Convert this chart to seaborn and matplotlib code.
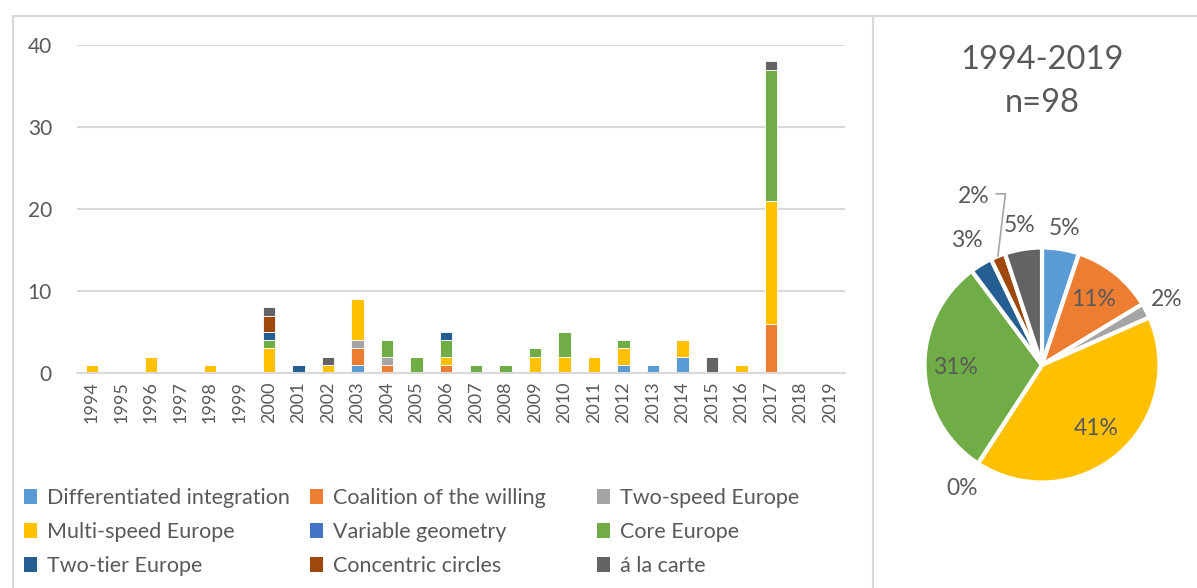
import numpy as np
import pandas as pd
import matplotlib
matplotlib.use("Agg")
import matplotlib.pyplot as plt
from matplotlib.patches import Patch
from matplotlib.lines import Line2D
import seaborn as sns

years = list(range(1994, 2020))
series = ["Differentiated integration", "Coalition of the willing", "Two-speed Europe",
          "Multi-speed Europe", "Variable geometry", "Core Europe",
          "Two-tier Europe", "Concentric circles", "á la carte"]
colors = ["#5B9BD5", "#ED7D31", "#A5A5A5", "#FFC000", "#4472C4", "#70AD47",
          "#255E91", "#9E480E", "#636363"]

#            1994 95 96 97 98 99 00 01 02 03 04 05 06 07 08 09 10 11 12 13 14 15 16 17 18 19
diff_int   = [0, 0, 0, 0, 0, 0, 0, 0, 0, 1, 0, 0, 0, 0, 0, 0, 0, 0, 1, 1, 2, 0, 0, 0, 0, 0]
coalition  = [0, 0, 0, 0, 0, 0, 0, 0, 0, 2, 1, 0, 1, 0, 0, 0, 0, 0, 0, 0, 0, 0, 0, 6, 0, 0]
two_speed  = [0, 0, 0, 0, 0, 0, 0, 0, 0, 1, 1, 0, 0, 0, 0, 0, 0, 0, 0, 0, 0, 0, 0, 0, 0, 0]
multi      = [1, 0, 2, 0, 1, 0, 3, 0, 1, 5, 0, 0, 1, 0, 0, 2, 2, 2, 2, 0, 2, 0, 1, 15, 0, 0]
variable   = [0, 0, 0, 0, 0, 0, 0, 0, 0, 0, 0, 0, 0, 0, 0, 0, 0, 0, 0, 0, 0, 0, 0, 0, 0, 0]
core       = [0, 0, 0, 0, 0, 0, 1, 0, 0, 0, 2, 2, 2, 1, 1, 1, 3, 0, 1, 0, 0, 0, 0, 16, 0, 0]
two_tier   = [0, 0, 0, 0, 0, 0, 1, 1, 0, 0, 0, 0, 1, 0, 0, 0, 0, 0, 0, 0, 0, 0, 0, 0, 0, 0]
concentric = [0, 0, 0, 0, 0, 0, 2, 0, 0, 0, 0, 0, 0, 0, 0, 0, 0, 0, 0, 0, 0, 0, 0, 0, 0, 0]
carte      = [0, 0, 0, 0, 0, 0, 1, 0, 1, 0, 0, 0, 0, 0, 0, 0, 0, 0, 0, 0, 0, 2, 0, 1, 0, 0]

# Pie shares (counts, n = 98)
pie_counts = [5, 11, 2, 40, 0, 30, 3, 2, 5]
pie_labels = ["5%", "11%", "2%", "41%", "0%", "31%", "3%", "2%", "5%"]
title_lines = ["1994-2019", "n=98"]

all_series = [diff_int, coalition, two_speed, multi, variable, core, two_tier, concentric, carte]

rows = []
for name, vals in zip(series, all_series):
    for y, v in zip(years, vals):
        rows.append({"year": y, "series": name, "count": v})
df = pd.DataFrame(rows)

sns.set_theme(style="white")
plt.rcParams['font.family'] = ['Lato', 'DejaVu Sans']
TXT = "#595959"
GRID = "#D9D9D9"

W, H = 1197, 588
fig = plt.figure(figsize=(W / 100, H / 100), dpi=100)

# ---- stacked bar chart ----
ax = fig.add_axes([77 / W, (H - 373) / H, (845 - 77) / W, (373 - 45) / H])
pal = dict(zip(series, colors))
sns.histplot(data=df, x="year", weights="count", hue="series",
             hue_order=series[::-1], palette=pal, multiple="stack",
             discrete=True, shrink=0.42, alpha=1, linewidth=0.6,
             edgecolor="white", legend=False, ax=ax)
ax.set_xlim(1993.5, 2019.5)
ax.set_ylim(0, 40)
ax.set_yticks([0, 10, 20, 30, 40])
ax.set_xticks(years)
ax.set_xticklabels([str(y) for y in years], rotation=90)
ax.set_xlabel("")
ax.set_ylabel("")
ax.grid(axis="y", color=GRID, linewidth=1.5)
ax.set_axisbelow(True)
for s in ["left", "right", "top"]:
    ax.spines[s].set_visible(False)
ax.spines["bottom"].set_color(GRID)
ax.spines["bottom"].set_linewidth(1.5)
ax.tick_params(axis="y", length=0, pad=18, labelsize=15, labelcolor=TXT)
ax.tick_params(axis="x", length=0, pad=6, labelsize=13, labelcolor=TXT)

# legend: three columns (row-wise reading order as in the original)
handles = [Patch(facecolor=c, edgecolor="none") for c in colors]
col_x = [24, 310, 597]
for ci in range(3):
    idx = [ci, ci + 3, ci + 6]
    lg = fig.legend([handles[i] for i in idx], [series[i] for i in idx],
                    ncol=1, loc="upper left", bbox_to_anchor=(col_x[ci] / W, 1 - 488 / H),
                    frameon=False, fontsize=15.5, labelcolor=TXT,
                    handlelength=0.6, handleheight=0.7, handletextpad=0.45,
                    labelspacing=0.65, borderaxespad=0, borderpad=0)

# ---- pie ----
cx, cy, r = 1042, 365, 117.5
half = 150
pax = fig.add_axes([(cx - half) / W, (H - cy - half) / H, 2 * half / W, 2 * half / H])
wedges, _ = pax.pie(pie_counts, colors=colors, startangle=90, counterclock=False,
                    radius=1, wedgeprops=dict(edgecolor="white", linewidth=3))
lim = half / r
pax.set_xlim(-lim, lim)
pax.set_ylim(-lim, lim)
pax.set_aspect("equal")
pax.axis("off")

dist = [1.18, 0.71, 1.2, 0.71, 1.25, 0.74, 1.24, 1.55, 1.2]
for w, lab, d in zip(wedges, pie_labels, dist):
    ang = np.deg2rad((w.theta1 + w.theta2) / 2)
    x, y = d * np.cos(ang), d * np.sin(ang)
    pax.text(x, y, lab, ha="center", va="center", fontsize=16.5, color=TXT)
# leader line for concentric circles label
w = wedges[7]
ang = np.deg2rad((w.theta1 + w.theta2) / 2)
lx, ly = 1.55 * np.cos(ang), 1.55 * np.sin(ang)
pax.plot([lx + 0.19, lx + 0.27, 1.0 * np.cos(ang)], [ly + 0.02, ly + 0.02, 1.0 * np.sin(ang)],
         color="#A6A6A6", linewidth=1.2, clip_on=False)

fig.text(cx / W, 1 - 60 / H, title_lines[0], ha="center", va="center", fontsize=23.5, color=TXT)
fig.text(cx / W, 1 - 103 / H, title_lines[1], ha="center", va="center", fontsize=23.5, color=TXT)

# frame lines
for (x0, y0, x1, y1) in [(13, 16, W, 16), (13, 16, 13, H), (873, 16, 873, H)]:
    fig.add_artist(Line2D([x0 / W, x1 / W], [1 - y0 / H, 1 - y1 / H],
                          color=GRID, linewidth=1.5, transform=fig.transFigure))

fig.savefig("out.png", dpi=100)
